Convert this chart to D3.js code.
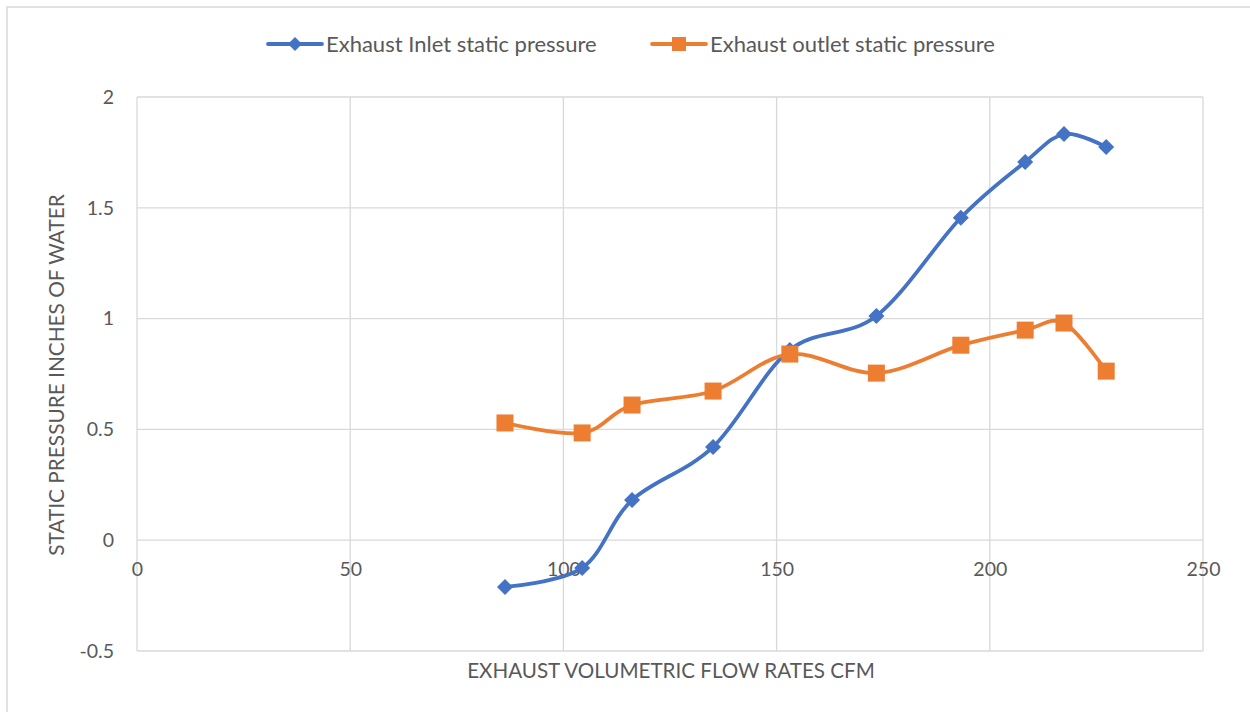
<!DOCTYPE html>
<html>
<head>
<meta charset="utf-8">
<script src="https://cdn.jsdelivr.net/npm/d3@7"></script>
<style>
  html, body { margin: 0; padding: 0; background: #fff; }
  svg { display: block; }
  text { font-family: Lato, "Open Sans", sans-serif; fill: #595959; }
</style>
</head>
<body>
<svg id="chart" width="1250" height="712"></svg>
<script>
// Exhaust flow rate (CFM) at each measurement
const flowCFM = [86.3, 104.4, 116.1, 135.1, 153.1, 173.4, 193.2, 208.3, 217.4, 227.3];
// Static pressure, inches of water
const inletPressure  = [-0.211, -0.125, 0.181, 0.421, 0.858, 1.012, 1.455, 1.707, 1.833, 1.774];
const outletPressure = [0.529, 0.484, 0.610, 0.673, 0.840, 0.754, 0.880, 0.948, 0.980, 0.763];

const seriesNames = ["Exhaust Inlet static pressure", "Exhaust outlet static pressure"];
const xTicks = [0, 50, 100, 150, 200, 250];
const yTicks = [-0.5, 0, 0.5, 1, 1.5, 2];

const svg = d3.select("#chart");
const W = 1250, H = 712;
const blue = "#4472C4", orange = "#ED7D31", grid = "#d9d9d9";

// outer chart border
svg.append("rect")
  .attr("x", 7).attr("y", 7).attr("width", W + 10).attr("height", H + 10)
  .attr("fill", "none").attr("stroke", grid).attr("stroke-width", 1.5);

const plot = { left: 137, right: 1203, top: 97, bottom: 651 };
const x = d3.scaleLinear().domain([0, 250]).range([plot.left, plot.right]);
const y = d3.scaleLinear().domain([-0.5, 2]).range([plot.bottom, plot.top]);

// gridlines
const g = svg.append("g");
g.selectAll(".hg").data(yTicks).join("line")
  .attr("x1", plot.left).attr("x2", plot.right)
  .attr("y1", d => y(d)).attr("y2", d => y(d))
  .attr("stroke", grid).attr("stroke-width", 1.3);
g.selectAll(".vg").data(xTicks).join("line")
  .attr("y1", plot.top).attr("y2", plot.bottom)
  .attr("x1", d => x(d)).attr("x2", d => x(d))
  .attr("stroke", grid).attr("stroke-width", 1.3);

// y axis labels
const yAxis = d3.axisLeft(y).tickValues(yTicks).tickSize(0).tickPadding(23)
  .tickFormat(d => String(d));
svg.append("g").attr("transform", `translate(${plot.left},0)`).call(yAxis)
  .call(a => a.select(".domain").remove())
  .selectAll("text").attr("font-size", 19.5).style("fill", "#595959")
  .attr("font-family", "Lato, 'Open Sans', sans-serif");

// x axis labels sit just below the zero line
const xAxis = d3.axisBottom(x).tickValues(xTicks).tickSize(0).tickPadding(22)
  .tickFormat(d => String(d));
svg.append("g").attr("transform", `translate(0,${y(0)})`).call(xAxis)
  .call(a => a.select(".domain").remove())
  .selectAll("text").attr("font-size", 19.5).style("fill", "#595959")
  .attr("font-family", "Lato, 'Open Sans', sans-serif");

// axis titles
svg.append("text")
  .attr("x", 671).attr("y", 678)
  .attr("text-anchor", "middle").attr("font-size", 20.6)
  .text("EXHAUST VOLUMETRIC FLOW RATES CFM");
svg.append("text")
  .attr("transform", `translate(64,375) rotate(-90)`)
  .attr("text-anchor", "middle").attr("font-size", 20.8)
  .text("STATIC PRESSURE INCHES OF WATER");

// smoothed lines
const line = d3.line().x(d => x(d[0])).y(d => y(d[1])).curve(d3.curveCatmullRom.alpha(0));
const inletPts = flowCFM.map((f, i) => [f, inletPressure[i]]);
const outletPts = flowCFM.map((f, i) => [f, outletPressure[i]]);

function diamond(sel, s) {
  sel.attr("d", `M0,${-s}L${s},0L0,${s}L${-s},0Z`);
}

// inlet series
svg.append("path").datum(inletPts).attr("d", line)
  .attr("fill", "none").attr("stroke", blue).attr("stroke-width", 3.8)
  .attr("stroke-linejoin", "round").attr("stroke-linecap", "round");
svg.append("g").selectAll("path").data(inletPts).join("path")
  .attr("transform", d => `translate(${x(d[0])},${y(d[1])})`)
  .call(diamond, 8).attr("fill", blue);

// outlet series
svg.append("path").datum(outletPts).attr("d", line)
  .attr("fill", "none").attr("stroke", orange).attr("stroke-width", 3.8)
  .attr("stroke-linejoin", "round").attr("stroke-linecap", "round");
svg.append("g").selectAll("rect").data(outletPts).join("rect")
  .attr("x", d => x(d[0]) - 8.5).attr("y", d => y(d[1]) - 8.5)
  .attr("width", 17).attr("height", 17).attr("fill", orange);

// legend
const legend = svg.append("g");
const items = [
  { name: seriesNames[0], color: blue, x0: 268, marker: "diamond" },
  { name: seriesNames[1], color: orange, x0: 652, marker: "square" }
];
items.forEach(it => {
  const lg = legend.append("g").attr("transform", `translate(${it.x0},44)`);
  lg.append("line").attr("x1", 0).attr("x2", 54).attr("y1", 0).attr("y2", 0)
    .attr("stroke", it.color).attr("stroke-width", 3.8).attr("stroke-linecap", "round");
  if (it.marker === "diamond") {
    lg.append("path").attr("transform", "translate(27,0)").call(diamond, 7).attr("fill", it.color);
  } else {
    lg.append("rect").attr("x", 20).attr("y", -7).attr("width", 14).attr("height", 14).attr("fill", it.color);
  }
  lg.append("text").attr("x", 58).attr("y", 8).attr("font-size", 22).text(it.name);
});
</script>
</body>
</html>
